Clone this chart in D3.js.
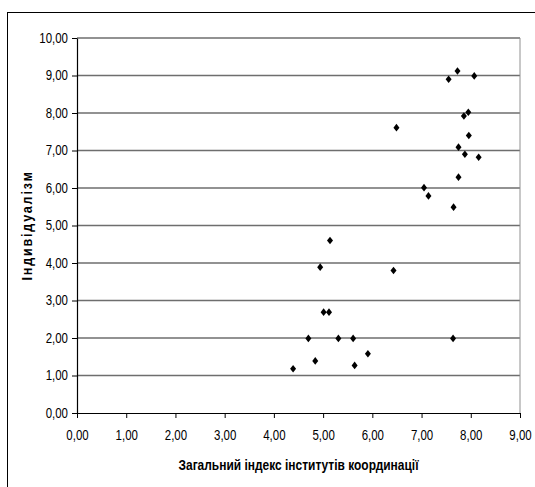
<!DOCTYPE html>
<html>
<head>
<meta charset="utf-8">
<script src="https://cdn.jsdelivr.net/npm/d3@7"></script>
<style>
  body { margin: 0; background: #fff; }
  svg { display: block; }
</style>
</head>
<body>
<svg id="chart"></svg>
<script>
// readings: x = coordination index, y = individualism
const xValues = [7.73, 7.55, 8.07, 7.95, 7.86, 6.49, 7.96, 7.75, 7.88, 8.16, 7.75, 7.05, 7.14,
                 7.65, 5.14, 4.94, 6.43, 5.01, 5.12, 4.70, 5.31, 5.61, 7.64, 5.91, 4.84, 5.64, 4.39];
const yValues = [9.12, 8.90, 8.99, 8.02, 7.92, 7.61, 7.40, 7.09, 6.90, 6.82, 6.29, 6.01, 5.79,
                 5.49, 4.60, 3.89, 3.80, 2.69, 2.69, 1.99, 1.99, 1.99, 1.99, 1.58, 1.39, 1.27, 1.18];
const xTicks = [0, 1, 2, 3, 4, 5, 6, 7, 8, 9];
const yTicks = [0, 1, 2, 3, 4, 5, 6, 7, 8, 9, 10];
const xTitle = "Загальний індекс інститутів координації";
const yTitle = "Індивідуалізм";

const width = 535, height = 487;
const plot = {left: 77, top: 38, right: 520, bottom: 413};
const narrow = 0.82; // no Arial Narrow here, so squeeze Liberation Sans
const fmt = v => d3.format(".2f")(v).replace(".", ",");

const svg = d3.select('#chart').attr('width', width).attr('height', height);

// outer frame, runs off the right and bottom edge
svg.append('rect')
  .attr('x', 7.5).attr('y', 12.5)
  .attr('width', width).attr('height', height)
  .attr('fill', 'none').attr('stroke', '#000');

const x = d3.scaleLinear().domain([0, 9]).range([plot.left, plot.right]);
const y = d3.scaleLinear().domain([0, 10]).range([plot.bottom, plot.top]);

// gridlines
svg.append('g')
  .selectAll('line')
  .data(yTicks.filter(d => d > 0))
  .enter().append('line')
  .attr('x1', plot.left).attr('x2', plot.right)
  .attr('y1', d => y(d)).attr('y2', d => y(d))
  .attr('stroke', '#6e6e6e')
  .attr('stroke-width', 1.3);

// right border of plot area
svg.append('line')
  .attr('x1', plot.right).attr('x2', plot.right)
  .attr('y1', plot.top).attr('y2', plot.bottom)
  .attr('stroke', '#909090');

const font = '"Liberation Sans", Arial, sans-serif';

const xAxis = svg.append('g')
  .attr('transform', `translate(0,${plot.bottom})`)
  .call(d3.axisBottom(x).tickValues(xTicks).tickFormat(fmt).tickSize(5).tickSizeOuter(0).tickPadding(12));

const yAxis = svg.append('g')
  .attr('transform', `translate(${plot.left},0)`)
  .call(d3.axisLeft(y).tickValues(yTicks).tickFormat(fmt).tickSize(5).tickSizeOuter(0).tickPadding(4));

[xAxis, yAxis].forEach(ax => {
  ax.select('.domain').attr('stroke', '#000').attr('stroke-width', 1.2);
  ax.selectAll('.tick line').attr('stroke', '#000');
  ax.selectAll('.tick text')
    .attr('fill', '#000')
    .attr('font-family', font)
    .attr('font-size', '14px')
    .attr('transform', `scale(${narrow},1)`);
});
yAxis.selectAll('.tick text').attr('x', -9 / narrow);

// points
svg.append('g')
  .selectAll('path')
  .data(xValues.map((v, i) => ({x: v, y: yValues[i]})))
  .enter().append('path')
  .attr('d', 'M0,-3.8 L3,0 L0,3.8 L-3,0 Z')
  .attr('transform', d => `translate(${x(d.x)},${y(d.y)})`)
  .attr('fill', '#000');

// axis titles
svg.append('text')
  .text(xTitle)
  .attr('x', (plot.left + plot.right) / 2)
  .attr('y', 470)
  .attr('text-anchor', 'middle')
  .attr('font-family', font)
  .attr('font-weight', 'bold')
  .attr('font-size', '14px')
  .attr('textLength', 240)
  .attr('lengthAdjust', 'spacingAndGlyphs');

svg.append('text')
  .text(yTitle)
  .attr('text-anchor', 'middle')
  .attr('transform', `translate(32,${(plot.top + plot.bottom) / 2}) rotate(-90)`)
  .attr('font-family', font)
  .attr('font-weight', 'bold')
  .attr('font-size', '14px')
  .attr('letter-spacing', '2px')
  .attr('textLength', 110)
  .attr('lengthAdjust', 'spacingAndGlyphs');
</script>
</body>
</html>
